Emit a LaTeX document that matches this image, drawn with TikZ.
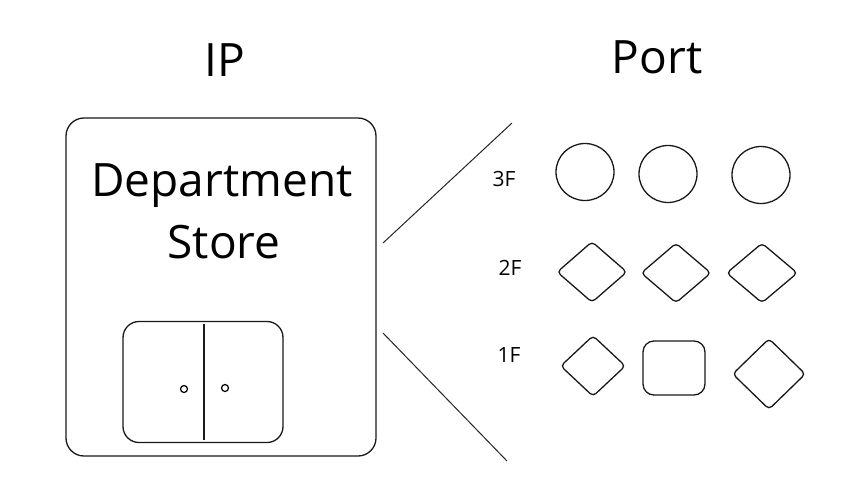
\documentclass[tikz,border=0pt]{standalone}
\usepackage{fontspec}
\setmainfont{Open Sans}
\usetikzlibrary{shapes.geometric}
\begin{document}
\begin{tikzpicture}[x=1pt,y=-1pt,
  title/.style={font=\fontsize{46}{50}\selectfont, inner sep=0pt},
  floorlbl/.style={font=\fontsize{21}{24}\selectfont, inner sep=0pt},
  sketch/.style={draw=black!90, line width=1.3pt},
  thinline/.style={draw=black!85, line width=1pt},
  roundbox/.style={sketch, rectangle, rounded corners=18pt, inner sep=0pt},
  portcircle/.style={sketch, ellipse, inner sep=0pt, minimum width=58pt, minimum height=57pt},
  portdiamond/.style={sketch, diamond, rounded corners=4pt, inner sep=0pt},
  knob/.style={draw=black, line width=1.2pt, circle, inner sep=0pt, minimum size=7pt}]
\useasboundingbox (0,0) rectangle (849,499);
\fill[white] (0,0) rectangle (849,499);
% titles
\node[title] (ip) at (225,60) {IP};
\node[title] (port) at (657,57) {Port};
% building
\node[roundbox, minimum width=310pt, minimum height=338pt] (store) at (221,287) {};
\node[title, align=center] (dept) at (222,186) {Department};
\node[title] (storetxt) at (224,242) {Store};
\node[roundbox, rounded corners=16pt, minimum width=160pt, minimum height=121pt] (door) at (203,382) {};
\coordinate (divtop) at (204,324);
\coordinate (divbot) at (204,440);
\draw[sketch, line width=1.1pt] (divtop) -- (divbot);
\node[knob] (knobL) at (184,389) {};
\node[knob] (knobR) at (225,388) {};
% fan lines
\coordinate (upA) at (383,243);
\coordinate (upB) at (512,123);
\coordinate (loA) at (383,333);
\coordinate (loB) at (507,461);
\draw[thinline] (upA) -- (upB);
\draw[thinline] (loA) -- (loB);
% floor labels
\node[floorlbl] (f3) at (504,179) {3F};
\node[floorlbl] (f2) at (510,268) {2F};
\node[floorlbl] (f1) at (509,355) {1F};
% 3F circles
\node[portcircle] (c1) at (585,172) {};
\node[portcircle] (c2) at (668,174) {};
\node[portcircle] (c3) at (761,175) {};
% 2F diamonds
\node[portdiamond, minimum width=70pt, minimum height=61pt] (d1) at (592,272) {};
\node[portdiamond, minimum width=70pt, minimum height=60pt] (d2) at (676,273) {};
\node[portdiamond, minimum width=71pt, minimum height=60pt] (d3) at (762,273) {};
% 1F
\node[portdiamond, minimum width=65pt, minimum height=61pt] (e1) at (593,366) {};
\node[roundbox, rounded corners=11pt, minimum width=62pt, minimum height=54pt] (e2) at (674,368) {};
\node[portdiamond, minimum width=73pt, minimum height=71pt] (e3) at (769,374) {};
\end{tikzpicture}
\end{document}
